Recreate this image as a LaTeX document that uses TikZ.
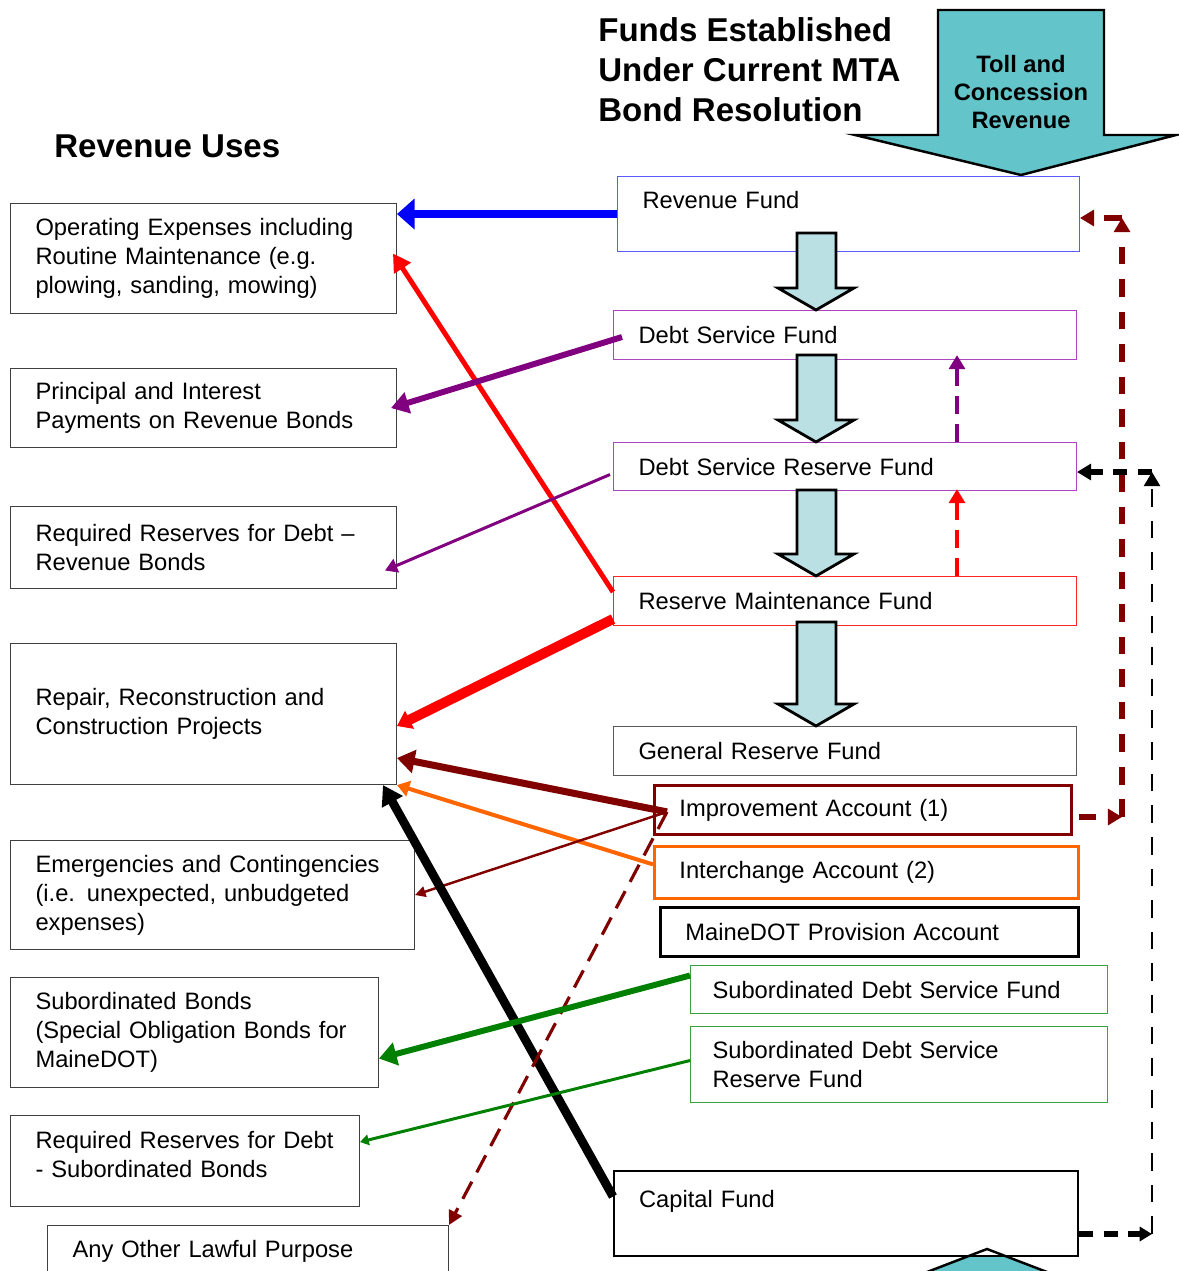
\documentclass[tikz,border=0pt]{standalone}
\usepackage{fontspec}
\setmainfont{Liberation Sans}
\usetikzlibrary{arrows.meta,calc}
\definecolor{tollcyan}{RGB}{99,197,202}
\definecolor{flowblue}{RGB}{187,224,228}
\definecolor{dkred}{RGB}{128,0,0}
\definecolor{purp}{RGB}{128,0,128}
\definecolor{orng}{RGB}{255,102,0}
\definecolor{grn}{RGB}{0,128,0}
\definecolor{revblue}{RGB}{90,90,255}
\definecolor{dsfpurp}{RGB}{170,70,190}
\definecolor{subgrn}{RGB}{60,160,60}

\begin{document}
\begin{tikzpicture}[x=0.02cm,y=-0.02cm,
usebox/.style={draw=black!75,line width=0.6pt,fill=white,anchor=north west,align=left,inner xsep=0.5cm,inner ysep=0pt,font=\fontsize{13.5}{16.5}\selectfont},
fundbox/.style={usebox},
flow/.style={draw=black,line width=1.6pt,fill=flowblue,line join=miter},
toll/.style={draw=black,line width=1.4pt,fill=tollcyan,line join=miter},
heading/.style={align=left,font=\fontsize{18.8}{22.8}\selectfont\bfseries}]
\tikzstyle{every node}+=[inner sep=0pt]
\useasboundingbox (0,0) rectangle (1178,1271);
\fill[tollcyan] (987,1249) -- (1060,1277) -- (914,1277) -- cycle;
\filldraw[toll] (938,10) -- (1104,10) -- (1104,135) -- (1176,135) -- (1021,175) -- (855,135) -- (938,135) -- cycle;
\node[font=\fontsize{13.5}{16.2}\selectfont\bfseries,align=center] (tollrev) at (1021,92) {Toll and\\Concession\\Revenue};
\node[heading,anchor=west] (funds) at (598,70) {Funds Established\\Under Current MTA\\Bond Resolution};
\node[heading,anchor=west] (uses) at (54,146) {Revenue Uses};

\node[usebox,minimum height=2.2cm,text width=6.72cm] (opex) at (10,203) {Operating Expenses including\\Routine Maintenance (e.g.\\plowing, sanding, mowing)};
\node[usebox,minimum height=1.58cm,text width=6.72cm] (pandi) at (10,368) {Principal and Interest\\Payments on Revenue Bonds};
\node[usebox,minimum height=1.64cm,text width=6.72cm] (resrev) at (10,506) {Required Reserves for Debt --\\Revenue Bonds};
\node[usebox,minimum height=2.82cm,text width=6.72cm] (repair) at (10,643) {Repair, Reconstruction and\\Construction Projects};
\node[usebox,minimum height=2.18cm,text width=7.08cm] (emerg) at (10,840) {Emergencies and Contingencies\\(i.e. unexpected, unbudgeted\\expenses)};
\node[usebox,minimum height=2.2cm,text width=6.36cm] (subb) at (10,977) {Subordinated Bonds\\(Special Obligation Bonds for\\MaineDOT)};
\node[usebox,minimum height=1.82cm,text width=5.98cm] (ressub) at (10,1115) {Required Reserves for Debt\\- Subordinated Bonds\\[-9pt]\mbox{}};
\node[usebox,minimum height=1.04cm,text width=7.02cm] (other) at (47,1225) {Any Other Lawful Purpose};

\node[fundbox,draw=revblue,minimum height=1.5cm,text width=8.24cm] (rev) at (617,176) {Revenue Fund\\\mbox{}};
\node[fundbox,draw=dsfpurp,minimum height=0.98cm,text width=8.26cm] (dsf) at (613,310) {Debt Service Fund};
\node[fundbox,draw=dsfpurp,minimum height=0.96cm,text width=8.26cm] (dsrf) at (613,442) {Debt Service Reserve Fund};
\node[fundbox,draw=red!85,minimum height=0.98cm,text width=8.26cm] (rmf) at (613,576) {Reserve Maintenance Fund};
\node[fundbox,draw=black!65,minimum height=0.98cm,text width=8.26cm] (grf) at (613,726) {General Reserve Fund};
\node[fundbox,draw=dkred,line width=1.6pt,minimum height=0.98cm,text width=7.34cm] (imp) at (653,784) {Improvement Account (1)};
\node[fundbox,draw=orng,line width=1.6pt,minimum height=1.04cm,text width=7.48cm] (intc) at (653,845) {Interchange Account (2)};
\node[fundbox,draw=black,line width=1.6pt,minimum height=0.98cm,text width=7.36cm] (mdot) at (659,906) {MaineDOT Provision Account};
\node[fundbox,draw=subgrn,inner xsep=0.44cm,minimum height=0.96cm,text width=7.46cm] (sdsf) at (690,965) {Subordinated Debt Service Fund};
\node[fundbox,draw=subgrn,inner xsep=0.44cm,minimum height=1.52cm,text width=7.46cm] (sdsrf) at (690,1026) {Subordinated Debt Service\\Reserve Fund};
\node[fundbox,draw=black,line width=1.2pt,minimum height=1.7cm,text width=8.28cm] (cap) at (613,1170) {Capital Fund\\\mbox{}};
\draw[toll,fill=none] (914,1277) -- (987,1249) -- (1060,1277);

\coordinate (axis) at (816,0);
\foreach \ys/\dst in {233/dsf,355/dsrf,490/rmf,622/grf}
  \filldraw[flow] (797,\ys) -- (836,\ys) -- ($(\dst.north -| axis)+(20,-22)$) -- ($(\dst.north -| axis)+(38,-22)$) -- (\dst.north -| axis) -- ($(\dst.north -| axis)+(-38,-22)$) -- ($(\dst.north -| axis)+(-19,-22)$) -- cycle;

\coordinate (imp-in) at ($(imp.west)+(14,2)$);
\draw[blue,line width=5pt,-{Triangle[length=10pt,width=17pt]}] (rev.west) -- (opex.east |- rev.west);
\draw[red,line width=2.8pt,-{Triangle[length=10pt,width=11pt]}] ($(rmf.west)+(0,-9)$) -- ($(opex.east)+(-4,-5)$);
\draw[purp,line width=3.4pt,-{Triangle[length=10pt,width=12pt]}] ($(dsf.west)+(9,2)$) -- ($(pandi.east)+(-6,0)$);
\draw[purp,line width=1.7pt,-{Triangle[length=7pt,width=8pt]}] ($(dsrf.west)+(-3,8)$) -- ($(resrev.east)+(-12,23)$);
\draw[red,line width=5.7pt,-{Triangle[length=8pt,width=11pt]}] ($(rmf.west)+(0,18)$) -- ($(repair.east)+(0,12)$);
\draw[dkred,line width=4pt,-{Triangle[length=10pt,width=13pt]}] (imp-in) -- ($(repair.east)+(0,44)$);
\draw[orng,line width=2.3pt,-{Triangle[length=7pt,width=9pt]}] ($(intc.west)+(0,-8)$) -- (repair.south east);
\draw[dkred,line width=1.4pt,-{Triangle[length=6pt,width=6pt]}] (imp-in) -- (emerg.east);
\draw[black,line width=5pt,-{Triangle[length=11pt,width=13pt]}] ($(cap.west)+(0,-17)$) -- ($(repair.south east)+(-14,0)$);
\draw[dkred,line width=1.8pt,dash pattern=on 11pt off 6pt,-{Triangle[length=8pt,width=8pt]}] (imp-in) -- (other.north east);
\draw[grn,line width=3.4pt,-{Triangle[length=10pt,width=13pt]}] ($(sdsf.west)+(0,-14)$) -- ($(subb.east)+(0,26)$);
\draw[grn,line width=1.7pt,-{Triangle[length=5pt,width=6pt]}] ($(sdsrf.west)+(0,-4)$) -- ($(ressub.east)+(0,-19)$);

\coordinate (riser) at (957,0);
\draw[purp,line width=2.8pt,dash pattern=on 10pt off 6pt,-{Triangle[length=8pt,width=9pt]}] (dsrf.north -| riser) -- ($(dsf.south -| riser)+(0,-5)$);
\draw[red,line width=2.8pt,dash pattern=on 10pt off 6pt,-{Triangle[length=8pt,width=9pt]}] (rmf.north -| riser) -- ($(dsrf.south -| riser)+(0,-2)$);

\coordinate (imp-r) at (1122,817);
\coordinate (rev-r) at (1122,218);
\draw[dkred,line width=3.4pt,dash pattern=on 10pt off 8pt,-{Triangle[length=8pt,width=9pt]}] ($(imp.east |- imp-r)+(6,0)$) -- (imp-r);
\draw[dkred,line width=3.4pt,dash pattern=on 10pt off 8.5pt,-{Triangle[length=8pt,width=9pt]}] (imp-r) -- (rev-r);
\draw[dkred,line width=3.4pt,dash pattern=on 10pt off 8pt,-{Triangle[length=8pt,width=9pt]}] (rev-r) -- (rev.east |- rev-r);

\coordinate (cap-r) at (1152,1234);
\coordinate (dsrf-r) at (1152,472);
\draw[black,line width=3.4pt,dash pattern=on 8pt off 6pt,-{Triangle[length=7pt,width=8pt]}] (cap.east |- cap-r) -- (cap-r);
\draw[black,line width=1.6pt,dash pattern=on 10pt off 8pt,-{Triangle[length=8pt,width=9pt]}] (cap-r) -- (dsrf-r);
\draw[black,line width=3.4pt,dash pattern=on 8pt off 6pt,-{Triangle[length=8pt,width=9pt]}] (dsrf-r) -- (dsrf.east |- dsrf-r);
\end{tikzpicture}
\end{document}
